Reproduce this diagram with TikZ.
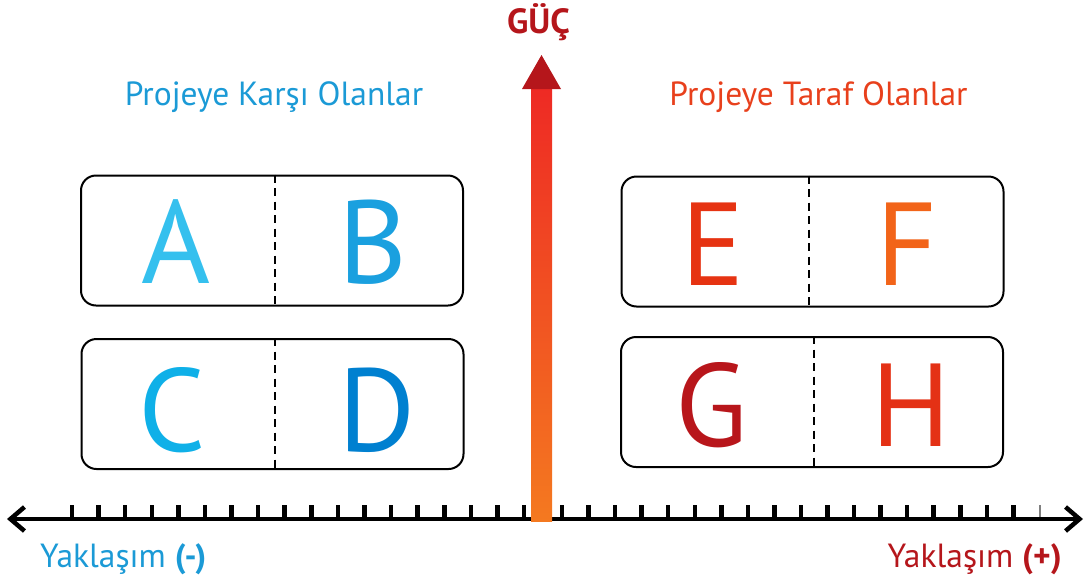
\documentclass[tikz,border=0pt]{standalone}
\usepackage{fontspec}
\setmainfont{PT Sans}
\usetikzlibrary{arrows.meta}
\definecolor{blueT}{HTML}{1B9AD6}
\definecolor{cA}{HTML}{35C0EE}
\definecolor{cB}{HTML}{1AA0DF}
\definecolor{cC}{HTML}{0FB0E8}
\definecolor{cD}{HTML}{0080D0}
\definecolor{cE}{HTML}{E63312}
\definecolor{cF}{HTML}{F26419}
\definecolor{cG}{HTML}{B8161B}
\definecolor{cH}{HTML}{E43115}
\definecolor{redT}{HTML}{E8401C}
\definecolor{darkR}{HTML}{B5161B}
\definecolor{shaftTop}{HTML}{EE2A24}
\definecolor{shaftBot}{HTML}{F47920}
\tikzset{
  box/.style={draw=black, line width=2pt, rounded corners=15pt, minimum width=382pt, minimum height=130pt, inner sep=0pt},
  divider/.style={draw=black, line width=2.3pt, dash pattern=on 8pt off 5.5pt},
  letter/.style={font=\fontsize{118}{118}\selectfont, anchor=base, inner sep=0pt},
  title/.style={font=\fontsize{33.5}{33.5}\selectfont, anchor=base, inner sep=0pt},
  tick/.style={line width=4.5pt},
  axisline/.style={line width=4.5pt, {Straight Barb[length=14pt,width=24pt]}-{Straight Barb[length=14pt,width=24pt]}}
}
\begin{document}
\begin{tikzpicture}[x=1pt,y=-1pt]
\useasboundingbox (0,0) rectangle (1088,582);
% boxes
\node[box] (ab) at (272,240.5) {};
\node[box] (cd) at (272.5,404) {};
\node[box] (ef) at (812.5,241.5) {};
\node[box] (gh) at (812,402) {};
\draw[divider] (275,0 |- ab.north) -- (275,0 |- ab.south);
\draw[divider] (275,0 |- cd.north) -- (275,0 |- cd.south);
\draw[divider] (809,0 |- ef.north) -- (809,0 |- ef.south);
\draw[divider] (814,0 |- gh.north) -- (814,0 |- gh.south);
% letters
\node[letter, text=cA] (A) at (176,283) {A};
\node[letter, text=cB] (B) at (373,283) {B};
\node[letter, text=cC] (C) at (172,451) {C};
\node[letter, text=cD] (D) at (377,451) {D};
\node[letter, text=cE] (E) at (713,285) {E};
\node[letter, text=cF] (F) at (907,285) {F};
\node[letter, text=cG] (G) at (712,446) {G};
\node[letter, text=cH] (H) at (911,446) {H};
% titles
\node[title, text=blueT] (t1) at (274,105) {Projeye Karşı Olanlar};
\node[title, text=redT] (t2) at (818.5,105) {Projeye Taraf Olanlar};
% axis
\coordinate (L) at (7,519);
\coordinate (R) at (1083,519);
\foreach \k in {0,...,17} {
  \draw[tick] ({72+26.59*\k},519) -- ({72+26.59*\k},505);
  \draw[tick] ({562+26.55*\k},519) -- ({562+26.55*\k},505);
}
\draw[line width=1.5pt, gray] (1040,519) -- (1040,505);
\draw[axisline] (L) -- (R);
% power arrow
\shade[top color=shaftTop, bottom color=shaftBot] (531,88) rectangle (552,521);
\fill[darkR] (541.5,55) -- (561,89) -- (522,89) -- cycle;
\node[title, text=darkR, font=\fontsize{35}{35}\selectfont\bfseries] (guc) at (538.5,33) {GÜÇ};
% bottom labels
\node[title, anchor=base west, text=blueT] (yl) at (40,567) {Yaklaşım \textbf{(-)}};
\node[title, anchor=base east, text=darkR] (yr) at (1062,567) {Yaklaşım \textbf{(+)}};
\end{tikzpicture}
\end{document}
